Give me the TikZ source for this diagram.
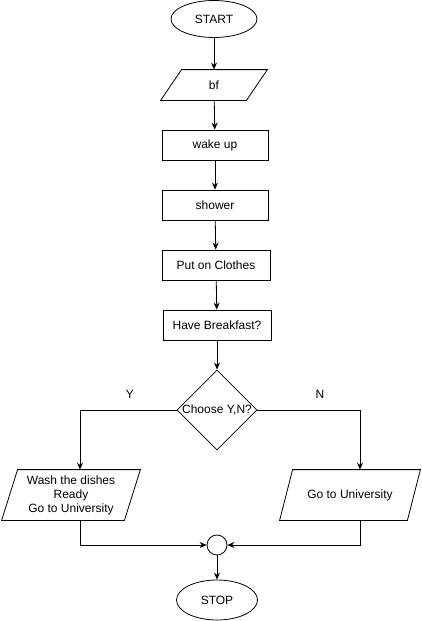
\documentclass[tikz,border=0pt]{standalone}
\usepackage{fontspec}
\setmainfont{Liberation Sans}
\usetikzlibrary{shapes.geometric,arrows.meta,positioning,calc}

% paralelogramo sobre a caixa de um nó: nome, desvio
\newcommand{\slantbox}[2]{\draw ([xshift=#2]#1.north west) -- (#1.north east) -- ([xshift=-#2]#1.south east) -- (#1.south west) -- cycle;}

\begin{document}
\begin{tikzpicture} [x=1pt, y=-1pt, > = {Stealth[length=7pt,width=6pt]}, line width=0.8pt, font=\fontsize{12}{14}\selectfont]
            % Estilos para os nós
            \tikzstyle{terminal}=[ellipse, draw, inner sep=0pt, minimum width=86pt, minimum height=37pt]
            \tikzstyle{process}=[rectangle, draw, inner sep=0pt, minimum height=30pt]
            \tikzstyle{io}=[rectangle, inner sep=0pt, minimum height=30pt, align=center]
            \tikzstyle{decision}=[diamond, draw, inner sep=0pt, minimum width=80pt, minimum height=80pt]
            \tikzstyle{joint}=[circle, draw, inner sep=0pt, minimum size=20pt]

            \useasboundingbox (0,0) rectangle (421,621);

            % Nós
            \node[terminal] (start) at (214,19) {START};
            \node[io, minimum width=106pt] (bf) at (214,85) {bf};
            \node[process, minimum width=106pt] (wake) at (215,145) {wake up};
            \node[process, minimum width=106pt] (shower) at (215,205) {shower};
            \node[process, minimum width=108pt] (clothes) at (216,265) {Put on Clothes};
            \node[process, minimum width=108pt] (breakfast) at (217,325) {Have Breakfast?};
            \node[decision, label={center:Choose Y,N?}] (choose) at (217,410) {};
            \node[io, minimum width=138pt, minimum height=50pt] (wash) at (71,495) {Wash the dishes\\Ready\\Go to University};
            \node[io, minimum width=140pt, minimum height=50pt] (univ) at (350,495) {Go to University};
            \node[joint] (join) at (217,545) {};
            \node[terminal, minimum width=81pt, minimum height=40pt] (stop) at (217,600) {STOP};
            \node (yes) at (130,394) {Y};
            \node (no) at (320,394) {N};

            \slantbox{bf}{21pt}
            \slantbox{wash}{16pt}
            \slantbox{univ}{13pt}

            % Ligações
            \draw[->] (start) -- (bf);
            \draw[->] (bf) -- (wake);
            \draw[->] (wake) -- (shower);
            \draw[->] (shower) -- (clothes);
            \draw[->] (clothes) -- (breakfast);
            \draw[->] (breakfast) -- (choose);
            \draw[->] (choose.west) -| ([xshift=9pt]wash.north);
            \draw[->] (choose.east) -| ([xshift=10pt]univ.north);
            \draw[->] ([xshift=9pt]wash.south) |- (join.west);
            \draw[->] ([xshift=10pt]univ.south) |- (join.east);
            \draw[->] (join) -- (stop);
        \end{tikzpicture}
\end{document}
